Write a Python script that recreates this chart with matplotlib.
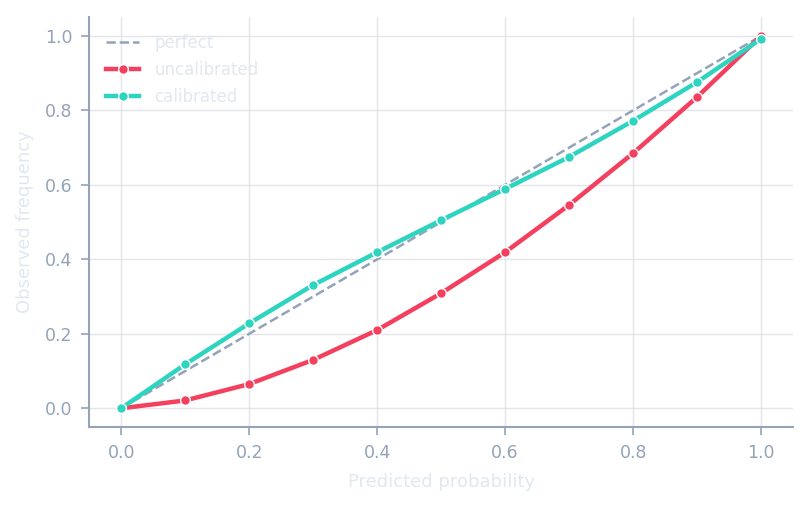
import numpy as np
import matplotlib.pyplot as plt

# Reliability curve data
bins = [0.0, 0.1, 0.2, 0.3, 0.4, 0.5, 0.6, 0.7, 0.8, 0.9, 1.0]
uncalibrated = [0.0, 0.021, 0.065, 0.13, 0.21, 0.309, 0.419, 0.546, 0.685, 0.836, 1.0]
calibrated = [0.0, 0.118, 0.228, 0.331, 0.419, 0.505, 0.589, 0.675, 0.772, 0.876, 0.992]
xticks = [0.0, 0.2, 0.4, 0.6, 0.8, 1.0]

axis_c, label_c, grid_c = '#94a3b8', '#e2e8f0', '#e3e5ea'

fig = plt.figure(figsize=(8.11, 5.07), dpi=100)
ax = fig.add_axes([0.11, 0.158, 0.868, 0.808])

ax.plot([0, 1], [0, 1], ls='--', color=axis_c, lw=1.8, label='perfect', zorder=2)
ax.plot(bins, uncalibrated, color='#f43f5e', lw=3.2, marker='o', ms=7,
        mec='white', mew=1, label='uncalibrated', zorder=3)
ax.plot(bins, calibrated, color='#2dd4bf', lw=3.2, marker='o', ms=7,
        mec='white', mew=1, label='calibrated', zorder=4)

ax.set_xlim(-0.05, 1.05); ax.set_ylim(-0.05, 1.05)
ax.set_xticks(xticks); ax.set_yticks(xticks)
ax.grid(color=grid_c, lw=1, zorder=0)
for s in ['top', 'right']:
    ax.spines[s].set_visible(False)
for s in ['left', 'bottom']:
    ax.spines[s].set_color(axis_c); ax.spines[s].set_linewidth(1.5)
ax.tick_params(colors=axis_c, labelsize=12.5, length=6, width=1.2, pad=6)
ax.set_xlabel('Predicted probability', color=label_c, fontsize=13, labelpad=8)
ax.set_ylabel('Observed frequency', color=label_c, fontsize=13, labelpad=8)

leg = ax.legend(loc='upper left', frameon=False, fontsize=12, handlelength=2.0,
                handletextpad=0.9, borderaxespad=0.6, labelspacing=0.55)
for t in leg.get_texts():
    t.set_color(label_c)

fig.savefig('out.png', dpi=100)
